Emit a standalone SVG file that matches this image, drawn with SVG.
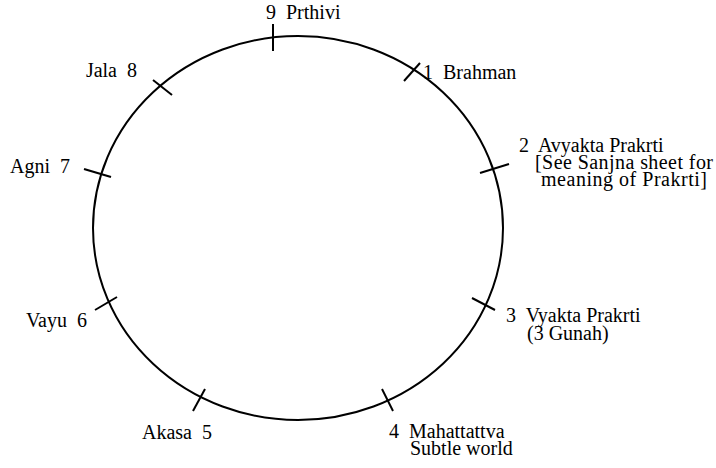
<svg xmlns="http://www.w3.org/2000/svg" width="716" height="468" viewBox="0 0 716 468">
<style>
.e{fill:none;stroke:#000;stroke-width:2}
.k{stroke:#000;stroke-width:2;stroke-linecap:butt}
</style>
<rect width="716" height="468" fill="#fff"/>
<g id="cycle">
<ellipse class="e" cx="298" cy="228" rx="205" ry="192"/>
</g>
<g id="connectors">
<line class="k" x1="273" y1="24" x2="273" y2="51"/>
<line class="k" x1="404" y1="81" x2="420" y2="63"/>
<line class="k" x1="480" y1="173" x2="509" y2="164"/>
<line class="k" x1="472" y1="298" x2="495" y2="310"/>
<line class="k" x1="382" y1="389" x2="393" y2="411"/>
<line class="k" x1="205" y1="389" x2="193" y2="411"/>
<line class="k" x1="95" y1="310" x2="117" y2="297"/>
<line class="k" x1="84" y1="169" x2="111" y2="177"/>
<line class="k" x1="153" y1="80" x2="172" y2="95"/>
</g>
<g font-family="Liberation Serif, Times New Roman, Times, serif" font-size="20" fill="#000">
<g id="n9"><text x="266" y="19" xml:space="preserve">9  Prthivi</text></g>
<g id="n1"><text x="423" y="79" xml:space="preserve">1  Brahman</text></g>
<g id="n2"><text x="519" y="152" xml:space="preserve">2  Avyakta Prakrti</text>
<text x="535" y="169" textLength="178" lengthAdjust="spacing">[See Sanjna sheet for</text>
<text x="541" y="186" textLength="166" lengthAdjust="spacing">meaning of Prakrti]</text></g>
<g id="n3"><text x="506" y="322" xml:space="preserve">3  Vyakta Prakrti</text>
<text x="527" y="340">(3 Gunah)</text></g>
<g id="n4"><text x="389" y="438" xml:space="preserve">4  Mahattattva</text>
<text x="410" y="455">Subtle world</text></g>
<g id="n5"><text x="212" y="439" text-anchor="end" xml:space="preserve">Akasa  5</text></g>
<g id="n6"><text x="87" y="327" text-anchor="end" xml:space="preserve">Vayu  6</text></g>
<g id="n7"><text x="70" y="173" text-anchor="end" xml:space="preserve">Agni  7</text></g>
<g id="n8"><text x="137" y="77" text-anchor="end" xml:space="preserve">Jala  8</text></g>
</g>
</svg>
